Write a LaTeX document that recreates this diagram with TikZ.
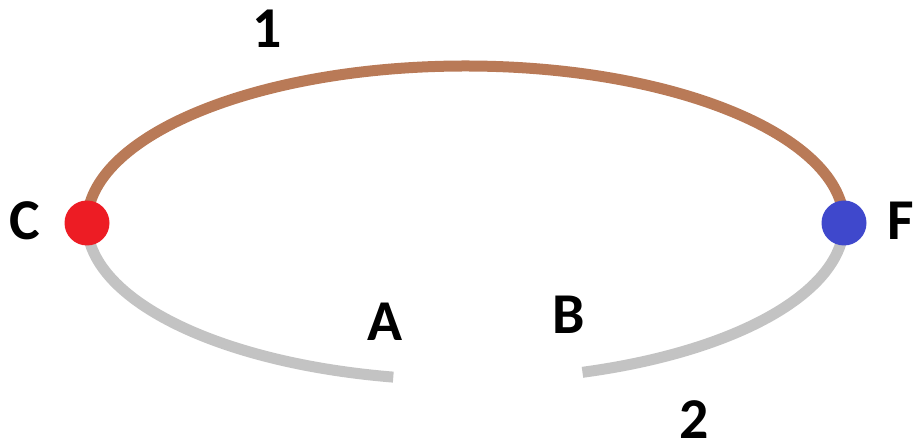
\documentclass[tikz,border=0pt]{standalone}
\usepackage{fontspec}
\setmainfont{Carlito}
\definecolor{arcbrown}{RGB}{185,122,87}
\definecolor{arcgray}{RGB}{195,195,195}
\definecolor{dotred}{RGB}{237,28,36}
\definecolor{dotblue}{RGB}{63,72,204}
\tikzset{
  brownarc/.style={draw=arcbrown, line width=11bp},
  grayarc/.style={draw=arcgray, line width=11bp},
  dotnode/.style={circle, inner sep=0pt, minimum size=45bp, draw=none},
  lbl/.style={font=\fontsize{58}{60}\selectfont\bfseries, text=black, inner sep=0pt}
}
\begin{document}
\begin{tikzpicture}[x=1bp, y=1bp]
\useasboundingbox (0,0) rectangle (915,448);
% centre of ellipse (465.5, 225) in y-up pixel coordinates
\coordinate (cpos) at (87,225);
\coordinate (fpos) at (844,225);
\draw[brownarc] (cpos) arc[start angle=180, end angle=0, x radius=378.5, y radius=157];
\draw[grayarc] (cpos) arc[start angle=180, end angle=259, x radius=378.5, y radius=157] coordinate (aend);
\draw[grayarc] (fpos) arc[start angle=360, end angle=288, x radius=378.5, y radius=157] coordinate (bend);
\node[dotnode, fill=dotred] (C) at (cpos) {};
\node[dotnode, fill=dotblue] (F) at (fpos) {};
\node[lbl] (lC) at (25,227) {C};
\node[lbl] (lF) at (901,227) {F};
\node[lbl] (l1) at (267,419) {1};
\node[lbl] (lA) at (385,126) {A};
\node[lbl] (lB) at (569,133) {B};
\node[lbl] (l2) at (694,28) {2};
\end{tikzpicture}
\end{document}
